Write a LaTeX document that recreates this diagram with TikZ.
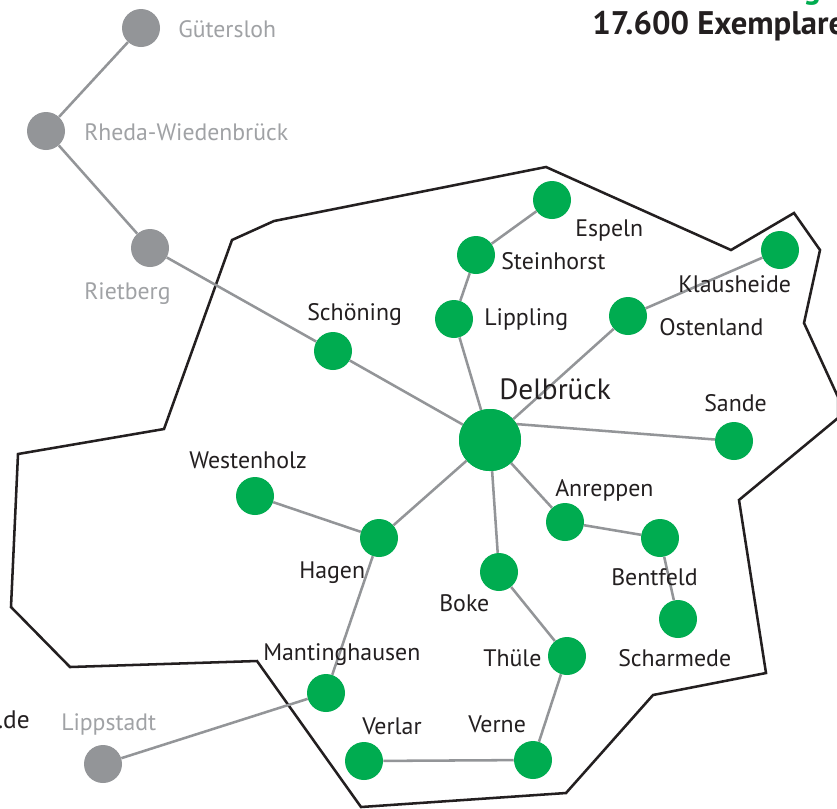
\documentclass[tikz,border=0pt]{standalone}
\usepackage{fontspec}
\setmainfont{PT Sans}
\definecolor{grn}{HTML}{00AC50}
\definecolor{gry}{HTML}{939598}
\definecolor{ink}{HTML}{231F20}
\definecolor{lbl}{HTML}{A0A2A5}
\tikzset{
  x=0.75pt,y=-0.75pt,
  town/.style={circle,fill=grn,draw=none,minimum size=28.5pt,inner sep=0pt},
  grey town/.style={circle,fill=gry,draw=none,minimum size=28.5pt,inner sep=0pt},
  hub/.style={circle,fill=grn,draw=none,minimum size=46.5pt,inner sep=0pt},
  link/.style={draw=gry,line width=1.9pt},
  border/.style={draw=ink,line width=1.9pt,line join=miter},
  lab/.style={text=ink,font=\fontsize{17.9}{20}\selectfont,inner sep=0pt},
  glab/.style={text=lbl,font=\fontsize{17.8}{20}\selectfont,inner sep=0pt},
  headline/.style={inner sep=0pt,font=\bfseries\fontsize{24.5}{28}\selectfont},
}
\begin{document}
\begin{tikzpicture}
\useasboundingbox (0,0) rectangle (837,808);
\fill[white] (0,0) rectangle (837,808);
% district border
\draw[border] (232,240) -- (274,221) -- (546,167) -- (731,250) -- (794,213) -- (820,250) -- (804,323) -- (838,397) -- (838,418) -- (739,500) -- (766,673) -- (653,695) -- (566,793) -- (361,807) -- (257,661) -- (70,667) -- (11,607) -- (18,454) -- (164,429) -- cycle;
% nodes
\node[grey town] (gue) at (141,28) {};
\node[grey town] (rhe) at (46,131) {};
\node[grey town] (rie) at (150,248) {};
\node[grey town] (lip) at (103,764) {};
\node[hub] (del) at (490,440) {};
\coordinate (delsan) at (490,422);
\node[town] (esp) at (552,200) {};
\node[town] (ste) at (476,255) {};
\node[town] (lipp) at (454,319) {};
\node[town] (kla) at (780,250) {};
\node[town] (ost) at (628,316) {};
\node[town] (sch) at (333,351) {};
\node[town] (san) at (734,441) {};
\node[town] (wes) at (255,496) {};
\node[town] (hag) at (379,538) {};
\node[town] (anr) at (565,522) {};
\node[town] (ben) at (660,538) {};
\node[town] (sca) at (678,619) {};
\node[town] (bok) at (499,572) {};
\node[town] (thu) at (567,656) {};
\node[town] (man) at (326,693) {};
\node[town] (ver) at (364,761) {};
\node[town] (vern) at (533,760) {};
% connectors
\draw[link] (gue) -- (rhe);
\draw[link] (rhe) -- (rie);
\draw[link] (rie) -- (sch);
\draw[link] (sch) -- (del);
\draw[link] (esp) -- (ste);
\draw[link] (ste) -- (lipp);
\draw[link] (lipp) -- (del);
\draw[link] (kla) -- (ost);
\draw[link] (ost) -- (del);
\draw[link] (delsan) -- (san);
\draw[link] (del) -- (hag);
\draw[link] (wes) -- (hag);
\draw[link] (hag) -- (man);
\draw[link] (del) -- (anr);
\draw[link] (anr) -- (ben);
\draw[link] (ben) -- (sca);
\draw[link] (del) -- (bok);
\draw[link] (bok) -- (thu);
\draw[link] (thu) -- (vern);
\draw[link] (vern) -- (ver);
\draw[link] (man) -- (lip);
\node[hub] (delcover) at (490,440) {};
% labels
\node[glab,anchor=base west] (t1) at (178,37) {Gütersloh};
\node[glab,anchor=base west] (t2) at (84,140) {Rheda-Wiedenbrück};
\node[glab,anchor=base west] (t3) at (84,299) {Rietberg};
\node[glab,anchor=base west] (t4) at (61,730) {Lippstadt};
\node[lab,anchor=base west] (t5) at (575,236) {Espeln};
\node[lab,anchor=base west] (t6) at (501,269) {Steinhorst};
\node[lab,anchor=base west] (t7) at (484,325) {Lippling};
\node[lab,anchor=base west] (t8) at (678,292) {Klausheide};
\node[lab,anchor=base west] (t9) at (659,335) {Ostenland};
\node[lab,anchor=base west] (t10) at (307,320) {Schöning};
\node[lab,anchor=base west,font=\fontsize{22}{26}\selectfont] (t11) at (499,399) {Delbrück};
\node[lab,anchor=base west] (t12) at (704,411) {Sande};
\node[lab,anchor=base west] (t13) at (189,468) {Westenholz};
\node[lab,anchor=base west] (t14) at (555,496) {Anreppen};
\node[lab,anchor=base west] (t15) at (299,578) {Hagen};
\node[lab,anchor=base west] (t16) at (611,585) {Bentfeld};
\node[lab,anchor=base west] (t17) at (439,611) {Boke};
\node[lab,anchor=base west] (t18) at (483,666) {Thüle};
\node[lab,anchor=base west] (t19) at (618,666) {Scharmede};
\node[lab,anchor=base west] (t20) at (263,660) {Mantinghausen};
\node[lab,anchor=base west] (t21) at (362,734) {Verlar};
\node[lab,anchor=base west] (t22) at (468,732) {Verne};
\node[lab,anchor=base east,font=\fontsize{19}{22}\selectfont] (t23) at (30,728) {.de};
\node[headline,text=ink,anchor=base west] (t24) at (592,34) {17.600 Exemplare};
\node[headline,text=grn,anchor=base west] (t25) at (803,-2) {g};
\end{tikzpicture}
\end{document}
